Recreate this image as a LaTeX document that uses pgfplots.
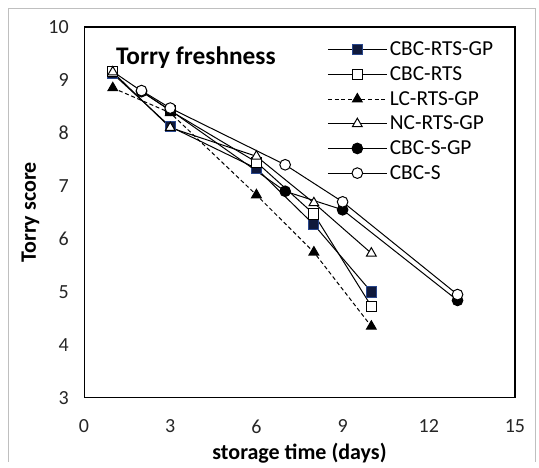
\documentclass[border=0pt]{standalone}
\usepackage{pgfplots}
\pgfplotsset{compat=1.18}
\usepackage{fontspec}
\setmainfont{Carlito}
\definecolor{navy}{RGB}{15,25,60}
\definecolor{navyedge}{RGB}{40,70,140}
\begin{document}
\begin{tikzpicture}
\begin{axis}[
  name=ax,
  scale only axis,
  width=323pt, height=278pt,
  xmin=0, xmax=15, ymin=3, ymax=10,
  xtick={0,3,6,9,12,15}, ytick={3,4,5,6,7,8,9,10},
  major tick length=0pt,
  axis line style={black, line width=0.8pt},
  /pgf/number format/assume math mode=true,
  tick label style={font=\fontsize{15}{17}\selectfont, text=black!85},
  yticklabel style={xshift=-8pt},
  xticklabel style={yshift=-13pt},
  xlabel={\textbf{storage time  (days)}},
  ylabel={\textbf{Torry score}},
  label style={font=\fontsize{16.5}{18}\selectfont},
  xlabel style={yshift=0pt},
  ylabel style={yshift=0pt},
  legend cell align=left,
  legend style={at={(rel axis cs:0.555,0.975)}, anchor=north west, draw=none, fill=none,
    font=\fontsize{16}{18}\selectfont, row sep=2.6pt,
    /tikz/every even column/.append style={column sep=0pt}},
  legend image code/.code={\draw[mark repeat=2,mark phase=2] plot coordinates {(0pt,0pt) (22pt,0pt) (44pt,0pt)};},
  every axis plot/.append style={black, line width=0.75pt},
]
\addplot[mark=square*, mark size=3.8pt, mark options={fill=navy, draw=navyedge, solid}] coordinates {(1,9.12) (3,8.12) (6,7.33) (8,6.27) (10,5.0)};
\addlegendentry{CBC-RTS-GP}
\addplot[mark=square*, mark size=3.8pt, mark options={fill=white, solid}] coordinates {(1,9.16) (3,8.42) (6,7.45) (8,6.47) (10,4.73)};
\addlegendentry{CBC-RTS}
\addplot[densely dashed, mark=triangle*, mark size=4.2pt, mark options={fill=black, solid}] coordinates {(1,8.85) (3,8.38) (6,6.83) (8,5.75) (10,4.35)};
\addlegendentry{LC-RTS-GP}
\addplot[mark=triangle*, mark size=4.2pt, mark options={fill=white, solid}] coordinates {(1,9.15) (3,8.1) (6,7.56) (8,6.68) (10,5.73)};
\addlegendentry{NC-RTS-GP}
\addplot[mark=*, mark size=4pt, mark options={fill=black, solid}] coordinates {(2,8.78) (3,8.43) (7,6.9) (9,6.55) (13,4.84)};
\addlegendentry{CBC-S-GP}
\addplot[mark=*, mark size=4pt, mark options={fill=white, solid}] coordinates {(2,8.8) (3,8.47) (7,7.4) (9,6.7) (13,4.95)};
\addlegendentry{CBC-S}
\node[anchor=west, font=\fontsize{19}{21}\selectfont\bfseries] at (axis cs:0.95,9.43) {Torry freshness};
\end{axis}
\path[use as bounding box] ([xshift=-63pt,yshift=-48pt]ax.south west) rectangle ([xshift=18pt,yshift=20.25pt]ax.north east);
\draw[black!25, line width=0.6pt] ([xshift=-57pt,yshift=-48pt]ax.south west) -- ([xshift=-57pt,yshift=14.25pt]ax.north west) -- ([xshift=15pt,yshift=14.25pt]ax.north east) -- ([xshift=15pt,yshift=-48pt]ax.south east);
\end{tikzpicture}
\end{document}
